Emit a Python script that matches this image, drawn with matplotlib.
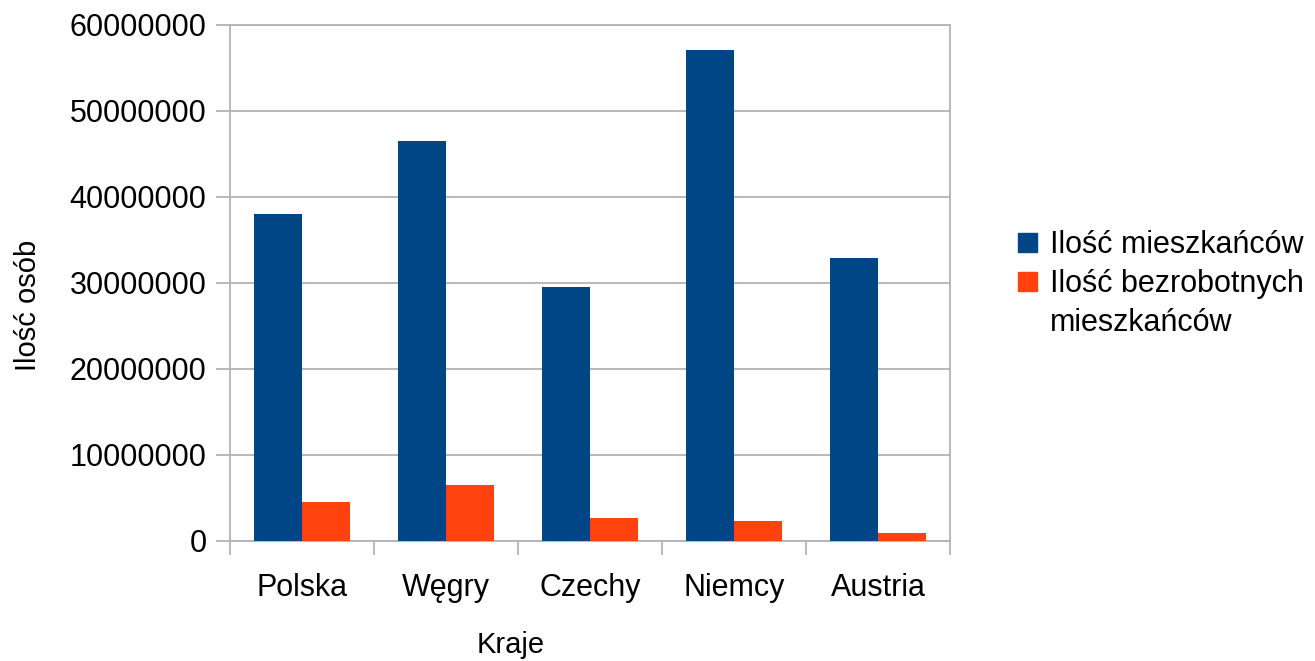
import numpy as np
from matplotlib import pyplot as plt
from matplotlib.patches import Patch

plt.rcParams['font.family'] = ['Liberation Sans', 'DejaVu Sans']

kraje = ['Polska', 'Węgry', 'Czechy', 'Niemcy', 'Austria']
mieszkancy = [38000000, 46500000, 29500000, 57100000, 32900000]
bezrobotni = [4500000, 6500000, 2700000, 2300000, 900000]

blue = '#004586'
red = '#ff420e'
grid_c = '#b3b3b3'

fig = plt.figure(figsize=(13.15, 6.61), dpi=100)
ax = fig.add_axes([230 / 1315, 1 - 541 / 661, 720 / 1315, 516 / 661])

x = np.arange(len(kraje))
w = 1 / 3
ax.bar(x - w / 2, mieszkancy, w, color=blue, zorder=3)
ax.bar(x + w / 2, bezrobotni, w, color=red, zorder=3)

ax.set_xlim(-0.5, len(kraje) - 0.5)
ax.set_ylim(0, 60000000)
ax.set_yticks(np.arange(0, 60000001, 10000000))
ax.yaxis.set_major_formatter(plt.FuncFormatter(lambda v, p: '%d' % v))
ax.grid(axis='y', color=grid_c, linewidth=1.3, zorder=0)

# category labels in middle, ticks between categories
ax.set_xticks(x)
ax.set_xticklabels(kraje)
ax.tick_params(axis='x', length=0, pad=23, labelsize=22)
ax.set_xticks(np.arange(-0.5, len(kraje), 1), minor=True)
ax.tick_params(axis='x', which='minor', length=10, color=grid_c, width=1.3)
ax.tick_params(axis='y', length=10, color=grid_c, width=1.3, labelsize=22, pad=7)

for s in ax.spines.values():
    s.set_color(grid_c)
    s.set_linewidth(1.3)

ax.set_xlabel('Kraje', fontsize=21, labelpad=20, x=(511 - 230) / 720)
ax.set_ylabel('Ilość osób', fontsize=21, labelpad=20, y=(541 - 305) / 516)

# wrapped second label: marker sits on its first line, like in the original
handles = [Patch(color=blue), Patch(color=red), Patch(color='none')]
labels = ['Ilość mieszkańców', 'Ilość bezrobotnych', 'mieszkańców']
leg = fig.legend(handles, labels,
                 loc='upper left', bbox_to_anchor=(1003 / 1315, 1 - 215 / 661),
                 frameon=False, fontsize=22, handlelength=0.6, handleheight=0.6,
                 handletextpad=0.45, labelspacing=0.29, borderpad=0)

fig.savefig('out.png', dpi=100)
